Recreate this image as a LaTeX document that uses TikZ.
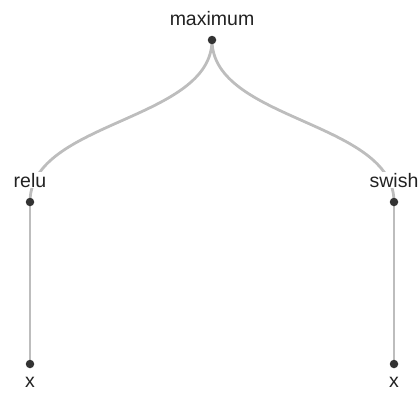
\documentclass[tikz,border=0pt]{standalone}
\usepackage{fontspec}
\setmainfont{Liberation Sans}
\usetikzlibrary{backgrounds}
\definecolor{linkgray}{HTML}{BDBDBD}
\definecolor{dotgray}{HTML}{333333}
\definecolor{textgray}{HTML}{222222}
\tikzset{
  dotnode/.style={circle,fill=dotgray,draw=none,minimum size=8.5pt,inner sep=0pt},
  lbl/.style={anchor=base,fill=white,inner sep=1pt,text=textgray,font=\fontsize{19.5}{22}\selectfont},
  link/.style={draw=linkgray,line width=2.8pt}
}
\begin{document}
\begin{tikzpicture}[x=1pt,y=-1pt]
\useasboundingbox (0,0) rectangle (420,392);
% dots
\node[dotnode] (max) at (212,40) {};
\node[dotnode] (relu) at (30,202) {};
\node[dotnode] (swish) at (394,202) {};
\node[dotnode] (x1) at (30,364) {};
\node[dotnode] (x2) at (394,364) {};
% connectors
\begin{pgfonlayer}{background}
\draw[link] (max.center) .. controls +(0,81) and +(0,-81) .. (relu.center);
\draw[link] (max.center) .. controls +(0,81) and +(0,-81) .. (swish.center);
\draw[link] (relu.center) -- (x1.center);
\draw[link] (swish.center) -- (x2.center);
\end{pgfonlayer}
% labels
\node[lbl] (lmax) at (212,25) {maximum};
\node[lbl] (lrelu) at (30,187) {relu};
\node[lbl] (lswish) at (394,187) {swish};
\node[lbl] (lx1) at (30,387) {x};
\node[lbl] (lx2) at (394,387) {x};
\end{tikzpicture}
\end{document}
